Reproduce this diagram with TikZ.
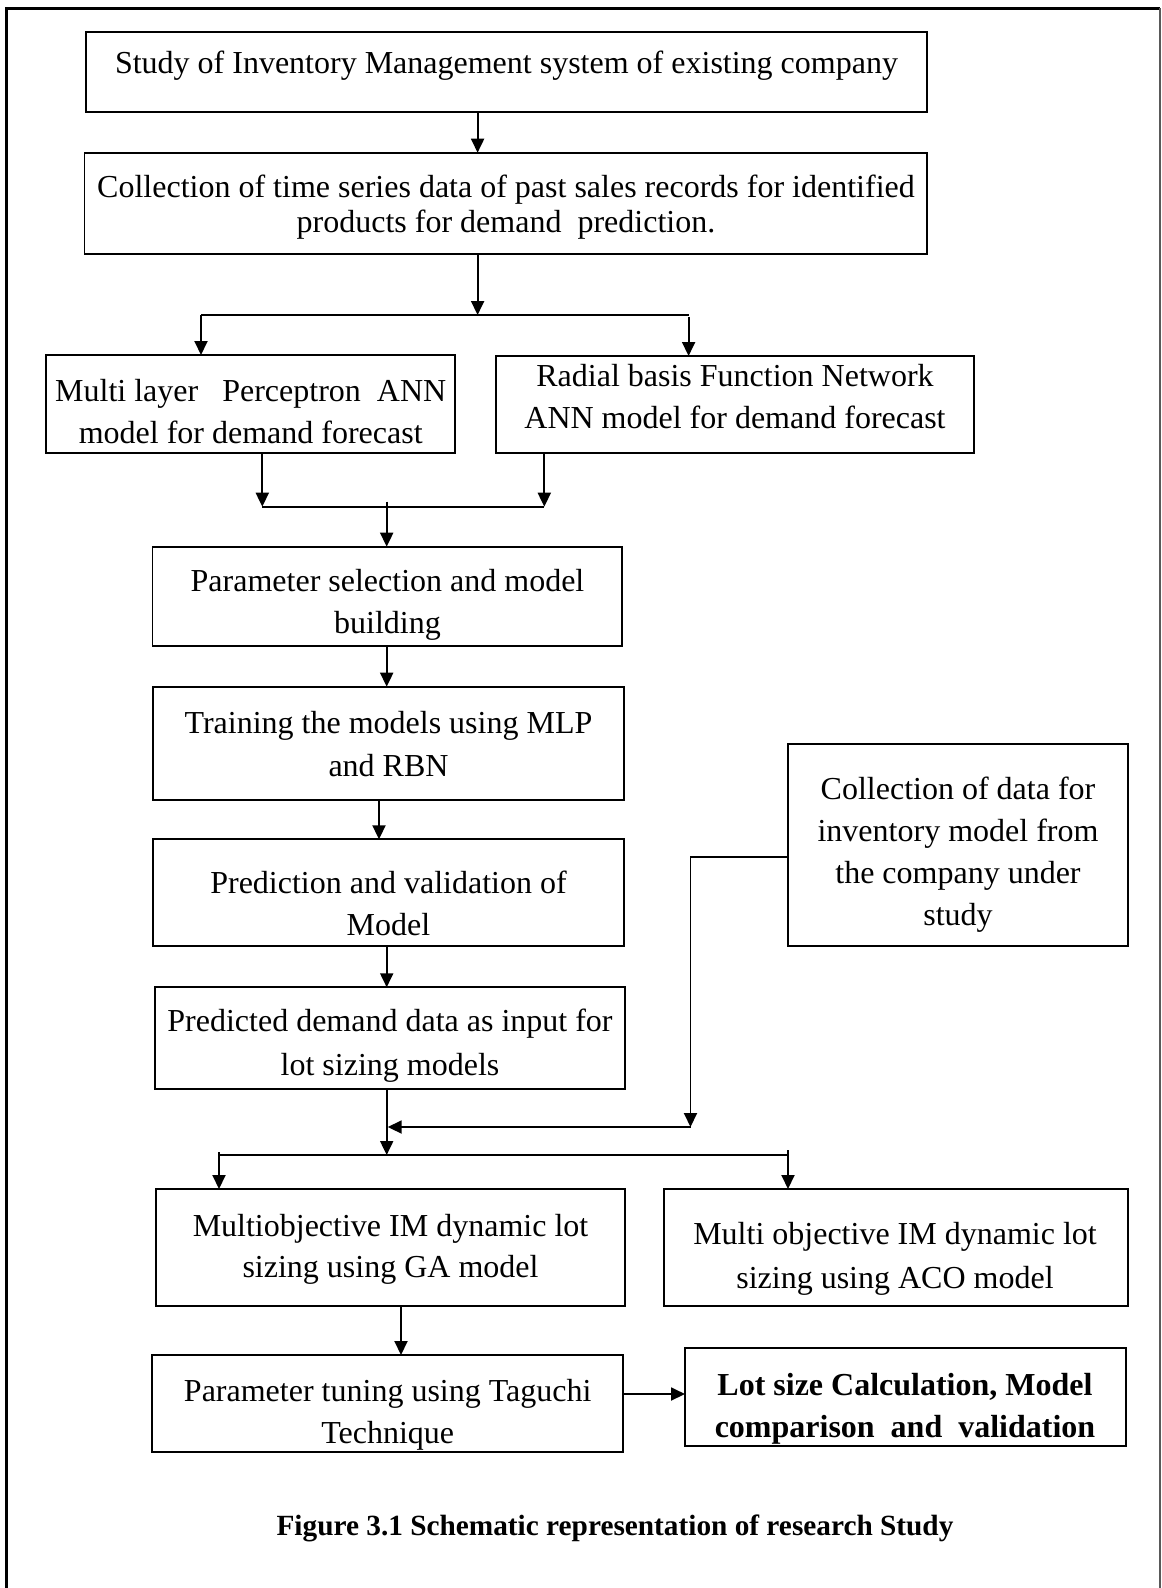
\documentclass[tikz,border=0pt]{standalone}
\usepackage{fontspec}
\setmainfont{Liberation Serif}
\usetikzlibrary{arrows.meta}

% centred lines with a fixed baseline distance; the box baseline is the first line
\newcommand\boxlines[2][41]{\vtop{\baselineskip=#1pt\lineskiplimit=-1000pt\halign{\hfil##\hfil\cr#2\crcr}}}

\tikzset{
  box/.style={draw, line width=1.9pt, inner sep=0pt, outer sep=0pt},
  txt/.style={inner sep=0pt, anchor=base, font=\fontsize{32}{35}\selectfont},
  wire/.style={line width=1.9pt},
  arr/.style={line width=1.9pt, -{Triangle[length=14pt,width=13pt]}},
}

\begin{document}
\begin{tikzpicture}[x=1pt, y=-1pt]
\useasboundingbox (0,0) rectangle (1162,1588);
\fill[white] (0,0) rectangle (1162,1588);

% page frame (open at the bottom)
\draw[line width=2.6pt, line join=miter] (6.3,1620) -- (6.3,8.3) -- (1160.3,8.3);
\draw[line width=2pt, black!65] (1160.3,8.3) -- (1160.3,1620);

% boxes
\node[box, minimum width=841pt,   minimum height=80pt]    (b1)  at (506.5,71.7)   {};
\node[box, minimum width=842.5pt, minimum height=101.3pt] (b2)  at (505.75,203.35) {};
\node[box, minimum width=409.4pt, minimum height=97.7pt]  (b3)  at (250.7,403.85) {};
\node[box, minimum width=477.8pt, minimum height=97pt]    (b4)  at (734.9,404.5)  {};
\node[box, minimum width=469.5pt, minimum height=99.3pt]  (b5)  at (387.25,596.35) {};
\node[box, line width=2.3pt, minimum width=471pt, minimum height=113.3pt] (b6) at (388.5,743.35) {};
\node[box, minimum width=471pt,   minimum height=106.7pt] (b7)  at (388.5,892.65) {};
\node[box, minimum width=470.3pt, minimum height=101.7pt] (b8)  at (390.15,1038.15) {};
\node[box, minimum width=339.6pt, minimum height=201.7pt] (bc)  at (958.2,845.15) {};
\node[box, minimum width=469pt,   minimum height=117pt]   (b9)  at (390.5,1247.5) {};
\node[box, minimum width=464pt,   minimum height=117pt]   (b10) at (896,1247.5)   {};
\node[box, minimum width=471.3pt, minimum height=97pt]    (b11) at (387.65,1403.5) {};
\node[box, line width=2.7pt, minimum width=441pt, minimum height=98pt] (b12) at (905.5,1397) {};

% box texts
\node[txt] (t1)  at (506.5,73.3) {\boxlines{Study of Inventory Management system of existing company}};
\node[txt] (t2)  at (506,197)    {\boxlines[35]{Collection of time series data of past sales records for identified\cr products for demand\ \ prediction.}};
\node[txt] (t3)  at (250.7,401.7) {\boxlines[41.3]{Multi layer\ \ \ Perceptron\ \ ANN\cr model for demand forecast}};
\node[txt] (t4)  at (735,386.7)  {\boxlines[41.3]{Radial basis Function Network\cr ANN model for demand forecast}};
\node[txt] (t5)  at (387.5,591.7) {\boxlines[41.6]{Parameter selection and model\cr building}};
\node[txt] (t6)  at (388.5,733)  {\boxlines[43.5]{Training the models using MLP\cr and RBN}};
\node[txt] (t7)  at (388.5,893)  {\boxlines[42]{Prediction and validation of\cr Model}};
\node[txt] (t8)  at (390,1031.7) {\boxlines[43.3]{Predicted demand data as input for\cr lot sizing models}};
\node[txt] (tc)  at (958,799)    {\boxlines[42]{Collection of data for\cr inventory model from\cr the company under\cr study}};
\node[txt] (t9)  at (390.5,1236) {\boxlines[41.6]{Multiobjective IM dynamic lot\cr sizing using GA model}};
\node[txt] (t10) at (895,1244.8) {\boxlines[43.2]{Multi objective IM dynamic lot\cr sizing using ACO model}};
\node[txt] (t11) at (387.7,1401) {\boxlines[42]{Parameter tuning using Taguchi\cr Technique}};
\node[txt, font=\fontsize{32}{35}\selectfont\bfseries] (t12) at (905,1395)
  {\boxlines[42.5]{Lot size Calculation, Model\cr comparison\ \ and\ \ validation}};

% caption
\node[txt, font=\fontsize{29.3}{33}\selectfont\bfseries] (cap) at (615,1535)
  {Figure 3.1 Schematic representation of research Study};

% junction points
\coordinate (j2)  at (477.6,315);
\coordinate (j2l) at (201,315);
\coordinate (j2r) at (688.6,315);
\coordinate (j3)  at (386.7,506.7);
\coordinate (j3l) at (262.3,506.7);
\coordinate (j3r) at (544.3,506.7);
\coordinate (k1)  at (690.5,1127);
\coordinate (j4)  at (386.7,1155);
\coordinate (j4l) at (219,1155);
\coordinate (j4r) at (788,1155);
\coordinate (g)   at (401,1330);
\coordinate (h)   at (650,1394);

% connectors
\draw[arr] (b1.south -| j2) -- (b2.north -| j2);
\draw[arr] (b2.south -| j2) -- (j2);
\draw[wire] (j2l) -- (j2r);
\draw[arr] (j2l) -- (b3.north -| j2l);
\draw[arr] ([yshift=-2pt]j2r) -- (b4.north -| j2r);

\draw[arr] (b3.south -| j3l) -- (j3l);
\draw[arr] (b4.south -| j3r) -- (j3r);
\draw[wire] (j3l) -- (j3r);
\draw[arr] ([yshift=5pt]j3) -- (b5.north -| j3);

\draw[arr] (b5.south -| j3) -- (b6.north -| j3);
\draw[arr] ([xshift=-9.5pt]b6.south) -- ([xshift=-9.5pt]b7.north);
\draw[arr] (b7.south -| j3) -- (b8.north -| j3);
\draw[arr] (b8.south -| j3) -- (j4);

\draw[arr] ([yshift=-12pt]bc.west) -| (k1);
\draw[arr] (k1) -- ([xshift=1pt]k1 -| j3);

\draw[wire] (j4l) -- (j4r);
\draw[arr] ([yshift=3pt]j4l) -- (b9.north -| j4l);
\draw[arr] ([yshift=5pt]j4r) -- (b10.north -| j4r);

\draw[arr] (b9.south -| g) -- (b11.north -| g);
\draw[arr] (b11.east |- h) -- (b12.west |- h);
\end{tikzpicture}
\end{document}
